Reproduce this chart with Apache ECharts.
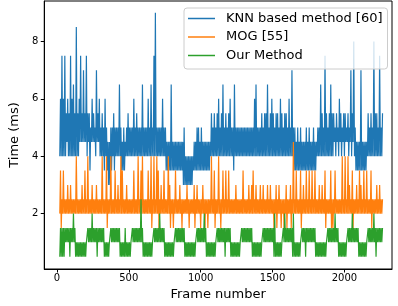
<!DOCTYPE html>
<html><head><meta charset="utf-8">
<script src="https://cdn.jsdelivr.net/npm/echarts@6/dist/echarts.min.js"></script>
<style>html,body{margin:0;padding:0;background:#fff}#c{width:398px;height:306px}</style>
</head><body><div id="c"></div>
<script>
// Each entry is one pixel column of the reference (FRAME_STEP frames wide):
// the lowest and the highest time drawn in that column.
const FIRST_FRAME = 20;
const FRAME_STEP = 10;
const xTicks = [0, 500, 1000, 1500, 2000];
const yTicks = [2, 4, 6, 8];
const seriesNames = ['KNN based method [60]', 'MOG [55]', 'Our Method'];

const knnLow = [
  4,4,4,4,4,4.5,4,4,4,4,
  4,4,4,4,4.5,4.5,4.5,4.5,4.5,4,
  4.5,3.5,4.5,4.5,4.5,4,4.5,4.5,4,4,
  4,3.5,4,3.5,3,3,3.5,4,3.5,4,
  4,4,4,3.5,3.5,3.5,4,4,4,4,
  4,4,4,4,4,4,4,4,4,4,
  4,4,4,4,4,4,4,4,4,4,
  4,4,4,4,3.5,3.5,3.5,3.5,3.5,3.5,
  3.5,3.5,3.5,3.5,3.5,3.5,3,3,3,3,
  3,3,3,3.5,3.5,3.5,3.5,3.5,3.5,3.5,
  3.5,3.5,3.5,3.5,3.5,4,4,4,4,4,
  4,4,4,4,4,4,4,4,4,4,
  4,3.5,4,4,4,4,4,4,4,4,
  4,4,4,4,4,4,4,4,4,4,
  4,4,4,4,4,4,4,4,4,4,
  4,4,4,4,4,4,4,4,4,4,
  4,4,4,3.5,3.5,3.5,3.5,3.5,3.5,3.5,
  3.5,3.5,3.5,3.5,3.5,3.5,3.5,3.5,3.5,4,
  4,4,4,4,4,4,4,4,4,4,
  4,4.5,4,4.5,4,4.5,4,4.5,4,4.5,
  4.5,4,4.5,4,4.5,4,3.5,3.5,3.5,3.5,
  3.5,3.5,3.5,3.5,4,4,4,4,4,4,
  4,4,4,4,4
];
const knnHigh = [
  6,7.5,6,7.5,5.5,6,5.5,7.5,6,6.5,
  5.5,8.5,5.5,6,7.5,5.5,7,5.5,7.5,5.5,
  5.5,5,6,5.5,5,7,5.5,6,5,5.5,
  5,6,5,4.5,4.5,5,5,5.5,5,5,
  5,6.5,5,4.5,5,4.5,5,5.5,5,5,
  5,6,5,5.5,5,5,5,6.5,5,5,
  5,6,5,6.5,5,7.5,9,5,5,5,
  5,6,5,5,4.5,4.5,4.5,6.5,4.5,4.5,
  4.5,4.5,4.5,4.5,4.5,4.5,5,4,4,4,
  4,4,4,4.5,4.5,5,5,4.5,5,4.5,
  4.5,4.5,4.5,4.5,4.5,5.5,5,5.5,5,5.5,
  6,5,5.5,6.5,5,5.5,5,5.5,6,5,
  5,6.5,5,5,5,5,5,5,5,5,
  5,5,5,5,5,6,6.5,5,5,5,
  5.5,5,5.5,5.5,6.5,5,5.5,6,5.5,5,
  5.5,5.5,5,6,5.5,5,5.5,5.5,5,6,
  5,7,5,5,4.5,5,4.5,5,4.5,4.5,
  4.5,5,4.5,5,4.5,4.5,5,4.5,4.5,5,
  5,6.5,5.5,5,7.5,5.5,5,5.5,6.5,5.5,
  5.5,5,5.5,5,6,5.5,5,5.5,5.5,5,
  5.5,5,7,5.5,8,5,4.5,4.5,4.5,7,
  4.5,4.5,4.5,4.5,5.5,5,5.5,5,8,5.5,
  5.5,5,7.5,5,5.5
];
const mogLow = [
  2,1.5,2,2,2,2,2,2,2,2,
  2,2,2,2,2,2,2,2,2,2,
  2,2,2,2,2,2,2,2,2,2,
  2,2,2,1.5,2,2,2,2,2,2,
  2,2,2,2,2,2,2,2,2,2,
  2,2,2,2,2,2,2,2,2,2,
  2,2,2,2,1.5,2,2,2,2,1.5,
  2,2,2,2,2,2,2,1.5,2,1.5,
  2,2,2,2,2,1.5,2,2,2,2,
  1.5,2,2,2,1.5,2,2,2,1.5,2,
  2,1.5,2,1.5,2,2,2,2,1.5,2,
  2,2,1.5,2,2,2,2,2,2,2,
  2,2,2,2,2,2,2,2,2,2,
  2,2,2,2,2,2,2,2,2,2,
  2,2,2,2,2,2,2,2,2,1.5,
  2,1.5,2,2,1.5,2,1.5,2,1.5,2,
  2,1.5,2,2,2,2,2,2,1.5,2,
  2,2,2,2,2,2,2,2,2,2,
  2,2,2,2,2,1.5,2,2,2,1.5,
  1.5,2,2,2,2,2,2,2,2,2,
  2,2,2,2,1.5,2,2,2,2,2,
  2,2,2,2,2,2,2,1.5,2,2,
  2,2,2,2,2
];
const mogHigh = [
  3.5,2.5,3.5,2.5,2.5,3,2.5,3,2.5,2.5,
  2.5,4,2.5,2.5,2.5,3,2.5,3.5,2.5,4,
  2.5,2.5,3,2.5,2.5,3,2.5,2.5,2.5,4,
  2.5,2.5,4,2.5,2.5,4,2.5,2.5,3.5,2.5,
  3,2.5,4,3.5,2.5,2.5,3,2.5,2.5,2.5,
  2.5,3.5,2.5,2.5,4,2.5,3.5,4,2.5,2.5,
  2.5,3.5,2.5,4,2.5,4,2.5,4,3.5,2.5,
  3,2.5,3.5,2.5,2.5,4,3,2.5,2.5,2.5,
  3.5,2.5,2.5,3,2.5,2.5,2.5,2.5,3,2.5,
  2.5,2.5,2.5,3,2.5,3,2.5,2.5,2.5,3,
  2.5,2.5,2.5,2.5,2.5,4,2.5,3.5,2.5,2.5,
  4,2.5,2.5,3.5,2.5,3.5,2.5,3.5,2.5,2.5,
  2.5,2.5,3,2.5,2.5,2.5,2.5,3.5,2.5,2.5,
  2.5,3,2.5,3,3.5,2.5,3,2.5,2.5,3,
  2.5,3,2.5,2.5,3,2.5,3,2.5,2.5,2.5,
  3,2.5,3,2.5,2.5,2.5,2.5,3,2.5,2.5,
  3,2.5,4.5,2.5,3.5,2.5,2.5,3.5,2.5,3,
  2.5,3.5,2.5,3.5,2.5,3.5,2.5,3.5,2.5,2.5,
  3,2.5,3,2.5,3.5,2.5,2.5,2.5,3.5,2.5,
  2.5,3.5,2.5,2.5,2.5,2.5,4,2.5,4,2.5,
  4,3,2.5,3.5,2.5,2.5,3,2.5,3.5,3,
  2.5,3.5,2.5,3.5,2.5,2.5,3.5,2.5,2.5,2.5,
  3,2.5,3,2.5,2.5
];
const oursLow = [
  0.5,0.5,0.5,0.5,1,1,1,0.5,1,1,
  1,0.5,0.5,0.5,0.5,0.5,0.5,0.5,0.5,1,
  1,1,1,1,1,1,0.5,1,1,1,
  1,0.5,0.5,0.5,0.5,1,1,1,1,1,
  1,1,0.5,0.5,0.5,0.5,0.5,0.5,0.5,0.5,
  1,1,1,1,1,1,1,1,0.5,0.5,
  0.5,0.5,0.5,0.5,0.5,1,1,1,1,1,
  1,1,1,0.5,0.5,0.5,0.5,0.5,0.5,0.5,
  1,1,1,1,1,1,1,0.5,0.5,0.5,
  0.5,0.5,0.5,0.5,0.5,1,1,1,1,1,
  1,1,0.5,0.5,0.5,0.5,0.5,0.5,0.5,1,
  1,1,1,1,1,0.5,1,1,1,0.5,
  0.5,0.5,0.5,0.5,0.5,0.5,1,1,1,1,
  1,1,1,1,0.5,0.5,0.5,0.5,0.5,0.5,
  0.5,1,1,1,1,1,1,1,1,0.5,
  0.5,0.5,0.5,0.5,0.5,1,1,1,1,1,
  1,1,0.5,0.5,0.5,0.5,0.5,0.5,1,1,
  1,0.5,1,1,1,1,1,1,0.5,0.5,
  0.5,0.5,0.5,0.5,0.5,0.5,1,1,1,1,
  1,1,1,1,0.5,0.5,0.5,0.5,0.5,0.5,
  1,1,1,1,1,1,1,1,0.5,0.5,
  0.5,0.5,0.5,0.5,1,1,1,1,1,1,
  0.5,1,1,1,1
];
const oursHigh = [
  1.5,1.5,1.5,1.5,1.5,1.5,1.5,1.5,1.5,2,
  1.5,1,1,1,1,1,1,1,1,1.5,
  1.5,1.5,2,1.5,1.5,1.5,1.5,1.5,1.5,1.5,
  1.5,1,1,1,1,1.5,1.5,1.5,1.5,1.5,
  1.5,1.5,1,1,1,1.5,1,1,1,1,
  1.5,1.5,1.5,1.5,1.5,1.5,2.5,1.5,1,1,
  1,1,1,1,1,1.5,1.5,1.5,1.5,2,
  1.5,1.5,1.5,1,1,1,1,1,1,1,
  1.5,1.5,1.5,1.5,1.5,1.5,1.5,1,1,1,
  1,1,1,1,1,1.5,1.5,1.5,1.5,1.5,
  2,1.5,1,1,1,1,1,1,1,1.5,
  1.5,1.5,1.5,1.5,1.5,1.5,1.5,1.5,1.5,1,
  1,1,1,1,1,1,1.5,1.5,1.5,1.5,
  1.5,1.5,1.5,1.5,1,1,1,1,1,1,
  1,1.5,1.5,1.5,1.5,1.5,1.5,1.5,1.5,2,
  1,1,1,1,1,1.5,2,1.5,1.5,1.5,
  1.5,1.5,2,1,1,1,1,1,1.5,1.5,
  1.5,1.5,1.5,1.5,1.5,1.5,1.5,1.5,1,1,
  1,1,1,1,1,1,1.5,1.5,1.5,1.5,
  1.5,2,1.5,1.5,1,1,1,1,1,1,
  1.5,1.5,1.5,2,1.5,1.5,1.5,1.5,1,1,
  1,1,1,1,1.5,1.5,1.5,1.5,2,1.5,
  1.5,1.5,1.5,1.5,1.5
];
const colors = ['#1f77b4', '#ff7f0e', '#2ca02c'];

// one line per method, going down to the column's low then up to its high
function toLine(low, high) {
  const pts = [];
  low.forEach((lo, i) => {
    const f = FIRST_FRAME + FRAME_STEP * i;
    pts.push([f, lo]);
    pts.push([f + FRAME_STEP / 2, high[i]]);
  });
  return pts;
}
const lines = [toLine(knnLow, knnHigh), toLine(mogLow, mogHigh), toLine(oursLow, oursHigh)];

const FONT = 'DejaVu Sans';
const chart = echarts.init(document.getElementById('c'), null, {renderer: 'canvas'});
chart.setOption({
  animation: false,
  backgroundColor: '#fff',
  grid: {left: 34, right: 6, top: 1, bottom: 34, show: true, borderColor: '#000', borderWidth: 1, backgroundColor: 'transparent'},
  xAxis: {
    type: 'value', min: -88, max: 2331,
    axisLine: {show: true, onZero: false, lineStyle: {color: '#000', width: 1}},
    splitLine: {show: false},
    axisTick: {show: true, length: 3.5, customValues: xTicks, lineStyle: {color: '#000'}},
    axisLabel: {customValues: xTicks, fontSize: 10, color: '#000', margin: 4, fontFamily: FONT,
      formatter: v => String(v)},
    name: 'Frame number', nameLocation: 'middle', nameGap: 19,
    nameTextStyle: {fontSize: 13, color: '#000', fontFamily: FONT}
  },
  yAxis: {
    type: 'value', min: 0.07, max: 9.41,
    axisLine: {show: true, onZero: false, lineStyle: {color: '#000', width: 1}},
    splitLine: {show: false},
    axisTick: {show: true, length: 3.5, customValues: yTicks, lineStyle: {color: '#000'}},
    axisLabel: {customValues: yTicks, fontSize: 10, color: '#000', margin: 6, fontFamily: FONT,
      formatter: v => String(v)},
    name: 'Time (ms)', nameLocation: 'middle', nameGap: 15,
    nameTextStyle: {fontSize: 13, color: '#000', fontFamily: FONT}
  },
  legend: {
    orient: 'vertical', left: 184, top: 8,
    itemWidth: 27, itemHeight: 14, itemGap: 5.5,
    icon: 'path://M0,0H36V2H0Z',
    padding: [4, 5, 7, 4],
    backgroundColor: 'rgba(255,255,255,0.8)',
    borderColor: '#cccccc', borderWidth: 1, borderRadius: 3,
    textStyle: {fontSize: 13, color: '#000', fontFamily: FONT, padding: [0, 0, 0, 6]},
    data: seriesNames
  },
  series: seriesNames.map((name, k) => ({
    name, type: 'line', symbol: 'none', showSymbol: false,
    color: colors[k],
    lineStyle: {width: 1.2, color: colors[k]},
    data: lines[k]
  }))
});
</script></body></html>
